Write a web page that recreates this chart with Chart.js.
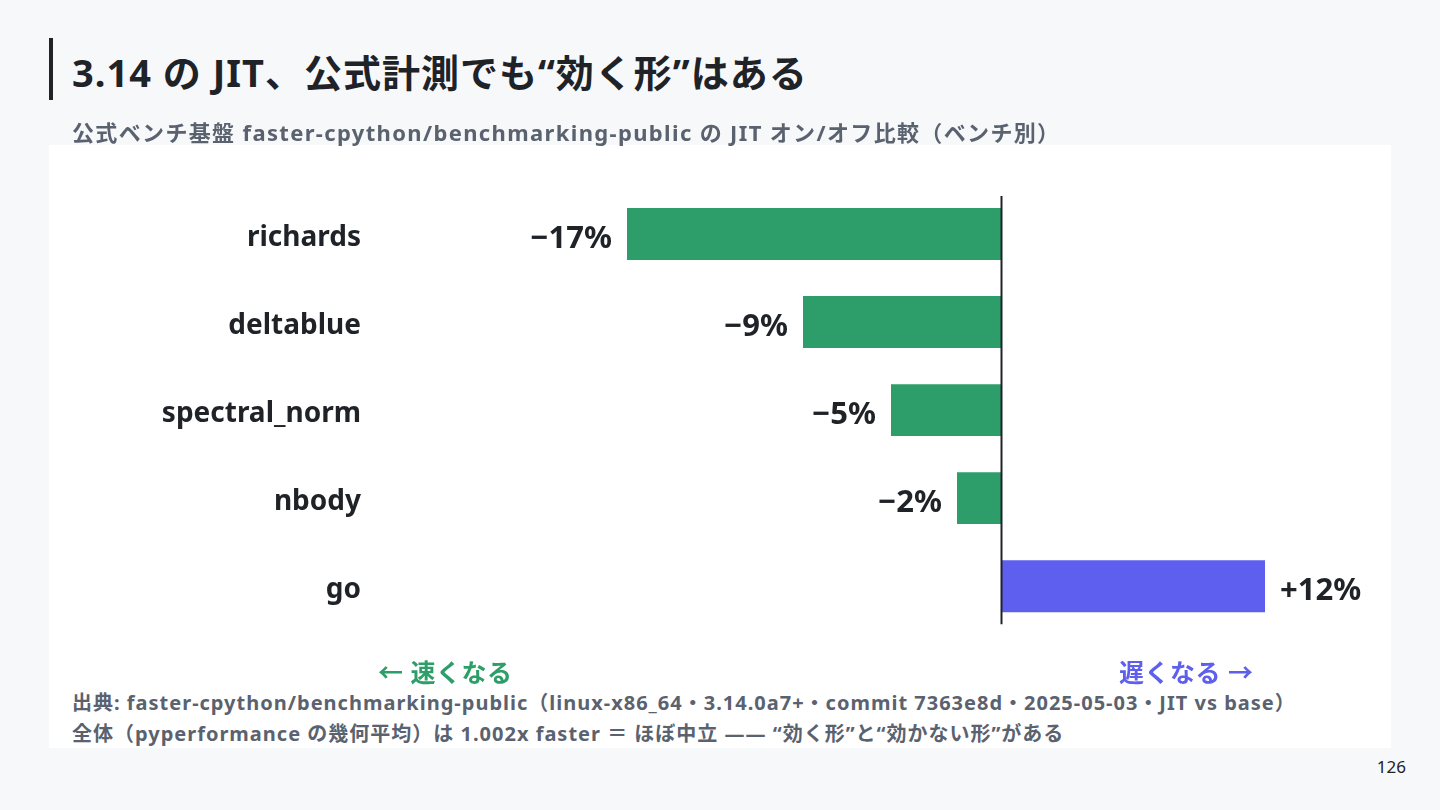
<!DOCTYPE html>
<html lang="ja">
<head>
<meta charset="utf-8">
<script src="https://cdn.jsdelivr.net/npm/chart.js@4.4.1/dist/chart.umd.min.js"></script>
<style>
  html, body { margin:0; padding:0; }
  body { width:1440px; height:810px; background:#f7f8fa; position:relative; overflow:hidden;
         font-family:"Noto Sans","Noto Sans CJK JP",sans-serif; }
  .accent { position:absolute; left:49px; top:38px; width:4px; height:62px; background:#1f2328; }
  .title { position:absolute; left:72px; top:46px; font-size:38px; letter-spacing:1px; font-weight:700; color:#1f2328; line-height:52px; white-space:nowrap; }
  .subtitle { position:absolute; left:72px; top:117px; font-size:22px; letter-spacing:1.35px; font-weight:700; color:#5a6270; line-height:30px; white-space:nowrap; z-index:2; }
  .panel { position:absolute; left:49px; top:145px; width:1342px; height:603px; background:#ffffff; }
  .chartbox { position:absolute; left:49px; top:145px; width:1342px; height:526px; }
  .dir { position:absolute; top:655px; font-size:25px; letter-spacing:0.5px; font-weight:700; line-height:34px; white-space:nowrap; }
  .fast { left:378px; color:#2e9e68; }
  .slow { left:1119px; color:#5f5fee; }
  .note { position:absolute; left:72px; font-size:20px; letter-spacing:1px; font-weight:700; color:#5a6270; line-height:28px; white-space:nowrap; }
  .n1 { top:689px; }
  .n2 { top:720px; }
  .page { position:absolute; right:34px; top:755px; font-size:17px; color:#1f2328; line-height:24px; }
</style>
</head>
<body>
<div class="accent"></div>
<div class="title">3.14 の JIT、公式計測でも“効く形”はある</div>
<div class="panel"></div>
<div class="subtitle">公式ベンチ基盤 faster-cpython/benchmarking-public の JIT オン/オフ比較（ベンチ別）</div>
<div class="chartbox"><canvas id="c"></canvas></div>
<div class="dir fast">← 速くなる</div>
<div class="dir slow">遅くなる →</div>
<div class="note n1">出典: faster-cpython/benchmarking-public（linux-x86_64・3.14.0a7+・commit 7363e8d・2025-05-03・JIT vs base）</div>
<div class="note n2">全体（pyperformance の幾何平均）は 1.002x faster ＝ ほぼ中立 —— “効く形”と“効かない形”がある</div>
<div class="page">126</div>
<script>
const benchmarks = ["richards", "deltablue", "spectral_norm", "nbody", "go"];
const changePct = [-17, -9, -5, -2, 12];
const valueLabels = ["−17%", "−9%", "−5%", "−2%", "+12%"];
const axisMin = -28;
const axisMax = 17;

const GREEN = "#2d9e6a";
const PURPLE = "#5f5fef";
const FONT = '"Noto Sans","Noto Sans CJK JP",sans-serif';

const zeroLine = {
  id: "zeroLine",
  afterDatasetsDraw(chart) {
    const { ctx, chartArea, scales } = chart;
    const x = Math.round(scales.x.getPixelForValue(0)) + 0.5;
    ctx.save();
    ctx.strokeStyle = "#1f2328";
    ctx.lineWidth = 2;
    ctx.beginPath();
    ctx.moveTo(x, chartArea.top + 6);
    ctx.lineTo(x, chartArea.bottom - 6);
    ctx.stroke();
    ctx.restore();
  }
};

const valueLabelPlugin = {
  id: "valueLabels",
  afterDatasetsDraw(chart) {
    const { ctx } = chart;
    const meta = chart.getDatasetMeta(0);
    ctx.save();
    ctx.font = "700 31px " + FONT;
    ctx.fillStyle = "#1f2328";
    ctx.textBaseline = "middle";
    meta.data.forEach((bar, i) => {
      const v = changePct[i];
      if (v < 0) {
        ctx.textAlign = "right";
        ctx.fillText(valueLabels[i], bar.x - 15, bar.y + 5);
      } else {
        ctx.textAlign = "left";
        ctx.fillText(valueLabels[i], bar.x + 15, bar.y + 5);
      }
    });
    ctx.restore();
  }
};

new Chart(document.getElementById("c"), {
  type: "bar",
  data: {
    labels: benchmarks,
    datasets: [{
      data: changePct,
      backgroundColor: changePct.map(v => v < 0 ? GREEN : PURPLE),
      borderWidth: 0,
      categoryPercentage: 1,
      barPercentage: 0.59
    }]
  },
  options: {
    indexAxis: "y",
    responsive: true,
    maintainAspectRatio: false,
    animation: false,
    layout: { padding: { top: 45, bottom: 15, right: 16, left: 0 } },
    plugins: { legend: { display: false }, tooltip: { enabled: false } },
    scales: {
      x: {
        display: false,
        min: axisMin,
        max: axisMax,
        grid: { display: false }
      },
      y: {
        grid: { display: false, drawTicks: false },
        border: { display: false },
        ticks: {
          color: "#1f2328",
          padding: 24,
          labelOffset: 4,
          font: { family: FONT, size: 28, weight: "700" }
        },
        afterFit(scale) { scale.width = 336; }
      }
    }
  },
  plugins: [zeroLine, valueLabelPlugin]
});
</script>
</body>
</html>
